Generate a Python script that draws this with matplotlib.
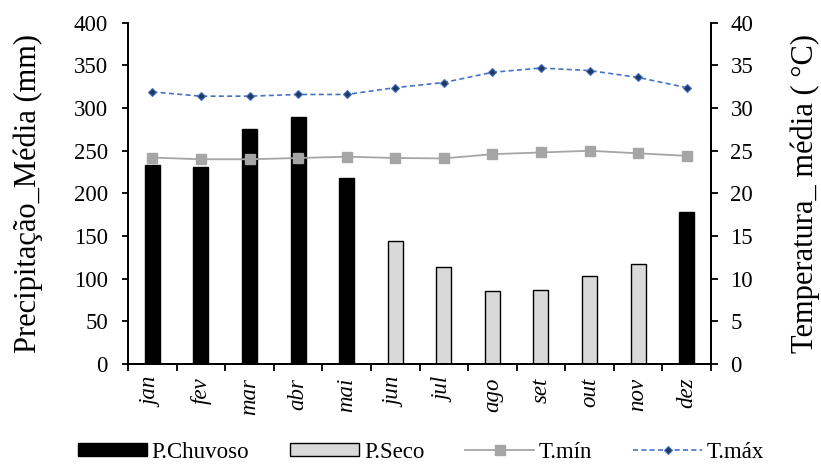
import numpy as np
import matplotlib
matplotlib.use("Agg")
import matplotlib.pyplot as plt

plt.rcParams['font.family'] = ['Liberation Serif', 'DejaVu Serif']

months = ["jan", "fev", "mar", "abr", "mai", "jun", "jul", "ago", "set", "out", "nov", "dez"]
precip = [233, 231, 275, 290, 218, 144, 114, 85, 87, 103, 117, 178]
rainy = [True, True, True, True, True, False, False, False, False, False, False, True]
t_min = [24.2, 24.0, 24.0, 24.15, 24.3, 24.15, 24.1, 24.6, 24.8, 25.0, 24.7, 24.4]
t_max = [31.9, 31.4, 31.4, 31.6, 31.6, 32.4, 33.0, 34.2, 34.7, 34.4, 33.6, 32.4]

fig = plt.figure(figsize=(8.21, 4.66), dpi=100)
ax = fig.add_axes([0.156, 0.219, 0.710, 0.732])
ax2 = ax.twinx()

x = np.arange(len(months))
precip = np.array(precip, dtype=float)
rainy = np.array(rainy)
w = 0.31
ax.bar(x[rainy], precip[rainy], width=w, color="black", edgecolor="black",
       linewidth=1, label="P.Chuvoso", zorder=2)
ax.bar(x[~rainy], precip[~rainy], width=w, color="#d9d9d9", edgecolor="black",
       linewidth=1, label="P.Seco", zorder=2)

ax2.plot(x, t_min, color="#a5a5a5", linewidth=1.3, marker="s", markersize=7,
         markerfacecolor="#a5a5a5", markeredgecolor="#a5a5a5", label="T.mín")
ax2.plot(x, t_max, color="#4472c4", linewidth=1.2, linestyle=(0, (3, 2)),
         marker="D", markersize=4.5, markerfacecolor="#1f3864",
         markeredgecolor="#4472c4", markeredgewidth=0.8, label="T.máx")

ax.set_xlim(-0.5, len(months) - 0.5)
ax.set_ylim(0, 400)
ax2.set_ylim(0, 40)
ax.set_yticks(np.arange(0, 401, 50))
ax2.set_yticks(np.arange(0, 41, 5))

ax.set_xticks(x)
ax.set_xticklabels(months, rotation=90, style="italic", fontsize=16.5)
ax.tick_params(axis="x", length=0, pad=10)
ax.set_xticks(np.arange(-0.5, len(months), 1.0), minor=True)
ax.tick_params(axis="x", which="minor", length=5, width=1.3, direction="out")

ax.tick_params(axis="y", labelsize=16.5, length=4.5, width=1.3, direction="out", pad=10)
ax2.tick_params(axis="y", labelsize=16.5, length=5, width=1.3, direction="out", pad=9)

for a in (ax, ax2):
    a.spines["top"].set_visible(False)
    for s in ("left", "right", "bottom"):
        a.spines[s].set_linewidth(1.3)

ax.set_ylabel("Precipitação_Média (mm)", fontsize=22, va="center")
ax2.set_ylabel("Temperatura_ média ( °C)", fontsize=22, va="center")
ax.yaxis.set_label_coords(-0.172, 0.5)
ax2.yaxis.set_label_coords(1.161, 0.5)

h1, l1 = ax.get_legend_handles_labels()
h2, l2 = ax2.get_legend_handles_labels()
fig.legend(h1 + h2, l1 + l2, loc="center", bbox_to_anchor=(0.513, 0.03),
           ncol=4, frameon=False, fontsize=16.5, handlelength=3.0,
           handleheight=0.55, columnspacing=1.8, handletextpad=0.2,
           borderpad=0, borderaxespad=0)

fig.savefig("out.png", dpi=100)
